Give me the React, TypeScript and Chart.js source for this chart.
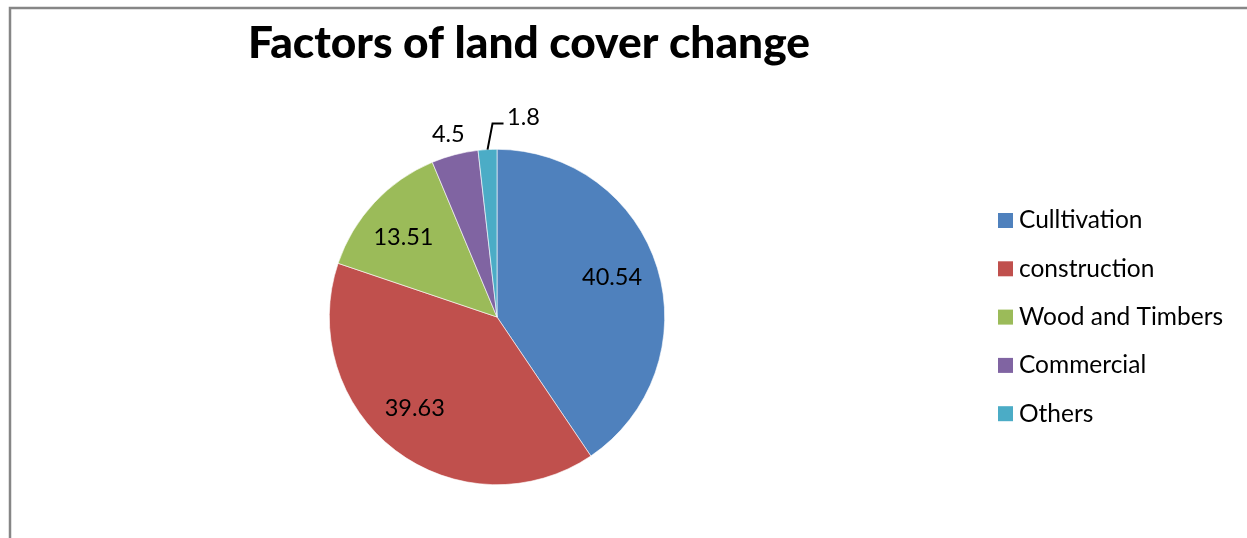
import React, { useEffect, useRef } from "react";
import { Chart, registerables } from "chart.js";

Chart.register(...registerables);

const chartTitle = "Factors of land cover change";
const categories = ["Culltivation", "construction", "Wood and Timbers", "Commercial", "Others"];
const values = [40.54, 39.63, 13.51, 4.5, 1.8];
const valueLabels = ["40.54", "39.63", "13.51", "4.5", "1.8"];
const colors = ["#4F81BD", "#C0504D", "#9BBB59", "#8064A2", "#4BACC6"];

const W = 1247;
const H = 538;
const FONT = "Lato, 'Open Sans', sans-serif";

const framePlugin = {
  id: "frame",
  beforeDraw(chart: any) {
    const ctx = chart.ctx;
    ctx.save();
    ctx.fillStyle = "#ffffff";
    ctx.fillRect(0, 0, chart.width, chart.height);
    ctx.strokeStyle = "#868686";
    ctx.lineWidth = 2.5;
    ctx.beginPath();
    ctx.moveTo(10, H + 5);
    ctx.lineTo(10, 8);
    ctx.lineTo(W + 5, 8);
    ctx.stroke();
    ctx.restore();
  },
};

const decorPlugin = {
  id: "decor",
  afterDatasetsDraw(chart: any) {
    const ctx = chart.ctx;
    ctx.save();
    // title
    let size = 40;
    ctx.font = `900 ${size}px ${FONT}`;
    const w = ctx.measureText(chartTitle).width;
    size = (size * 562) / w;
    ctx.font = `900 ${size}px ${FONT}`;
    ctx.fillStyle = "#000";
    ctx.textAlign = "center";
    ctx.textBaseline = "alphabetic";
    ctx.fillText(chartTitle, 529, 58);

    // data labels
    const meta = chart.getDatasetMeta(0);
    ctx.font = `23.5px ${FONT}`;
    ctx.textBaseline = "middle";
    ctx.textAlign = "center";
    const tweak = [[-2, -4], [-8, -6], [-4, 4]];
    meta.data.forEach((arc: any, i: number) => {
      const { x, y, outerRadius, startAngle, endAngle } = arc.getProps(
        ["x", "y", "outerRadius", "startAngle", "endAngle"],
        true
      );
      const mid = (startAngle + endAngle) / 2;
      const cx = Math.cos(mid);
      const cy = Math.sin(mid);
      if (i < 3) {
        const r = outerRadius * 0.73;
        ctx.fillText(valueLabels[i], x + cx * r + tweak[i][0], y + cy * r + tweak[i][1]);
      } else if (i === 3) {
        const r = outerRadius * 1.13;
        ctx.fillText(valueLabels[i], x + cx * r - 1, y + cy * r + 1);
      } else {
        const ex = x + cx * outerRadius;
        const ey = y + cy * outerRadius;
        ctx.strokeStyle = "#000";
        ctx.lineWidth = 2;
        ctx.beginPath();
        ctx.moveTo(ex, ey);
        ctx.lineTo(ex + 5, ey - 26);
        ctx.lineTo(ex + 16, ey - 26);
        ctx.stroke();
        ctx.fillText(valueLabels[i], ex + 36, ey - 32);
      }
    });

    // legend
    ctx.font = `24.5px ${FONT}`;
    ctx.textAlign = "left";
    ctx.textBaseline = "middle";
    categories.forEach((c, i) => {
      const cyy = 220.5 + i * 48.3;
      ctx.fillStyle = colors[i];
      ctx.fillRect(998, cyy - 7.5, 15, 15);
      ctx.fillStyle = "#000";
      ctx.fillText(c, 1019, cyy);
    });
    ctx.restore();
  },
};

export default function App() {
  const ref = useRef<HTMLCanvasElement | null>(null);
  useEffect(() => {
    document.body.style.margin = "0";
    const canvas = ref.current!;
    const chart = new Chart(canvas, {
      type: "pie",
      data: {
        labels: categories,
        datasets: [
          {
            data: values,
            backgroundColor: colors,
            borderColor: "#ffffff",
            borderWidth: 0.6,
          },
        ],
      },
      options: {
        responsive: false,
        animation: false,
        layout: { padding: { left: 329, right: 582, top: 149, bottom: 53 } },
        plugins: {
          legend: { display: false },
          title: { display: false },
          tooltip: { enabled: false },
        },
      },
      plugins: [framePlugin, decorPlugin],
    });
    return () => chart.destroy();
  }, []);
  return (
    <div style={{ position: "absolute", left: 0, top: 0, width: W, height: H }}>
      <canvas ref={ref} width={W} height={H} style={{ width: W, height: H }} />
    </div>
  );
}
